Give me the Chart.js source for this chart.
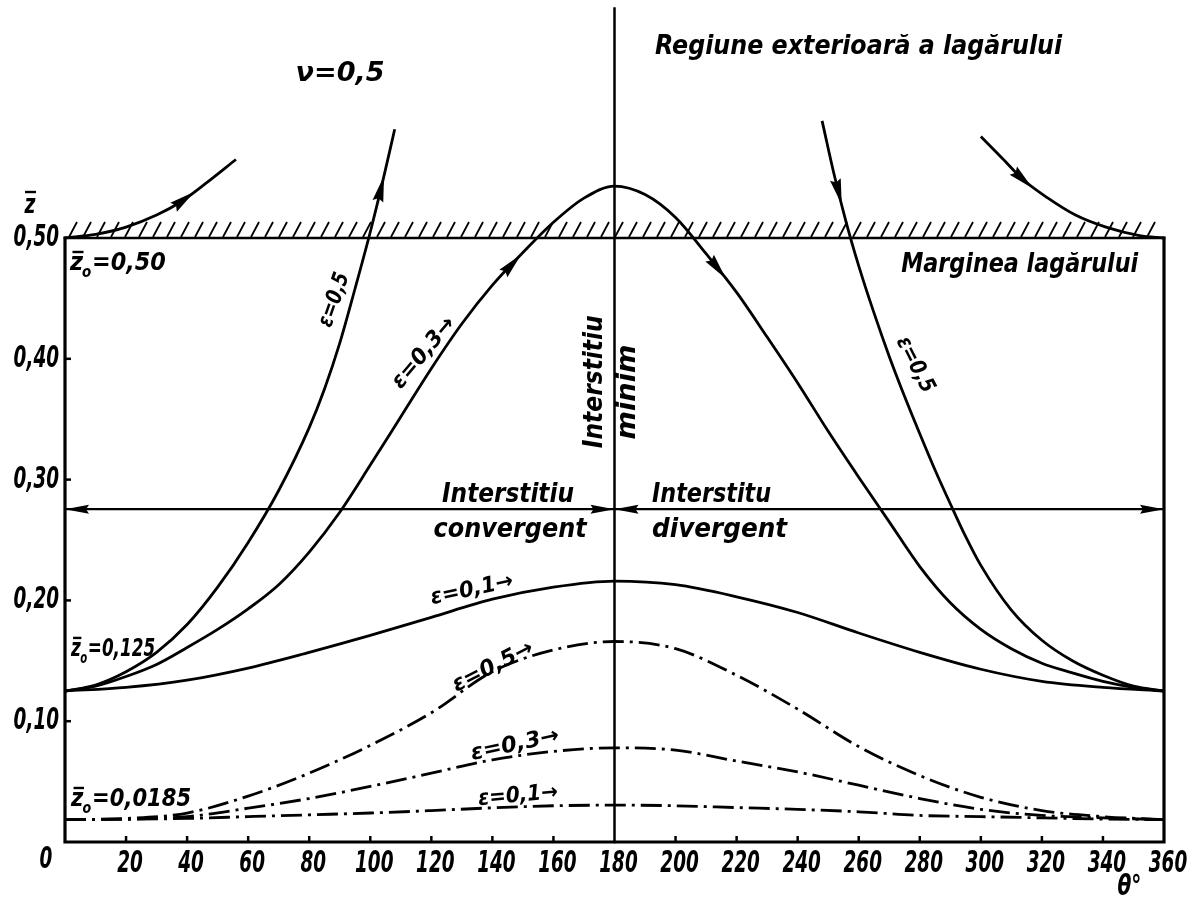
<!DOCTYPE html>
<html>
<head>
<meta charset="utf-8">
<script src="https://cdn.jsdelivr.net/npm/chart.js@4.4.1/dist/chart.umd.min.js"></script>
<style>
  html, body { margin: 0; padding: 0; background: #fff; }
  canvas { display: block; }
</style>
</head>
<body>
<canvas id="c" width="1192" height="901"></canvas>
<script>
// θ grid (degrees) for the low curves
const theta = [0, 20, 40, 60, 80, 100, 120, 140, 160, 180, 200, 220, 240, 260, 280, 300, 320, 340, 360];

// z̄0 = 0,125, ε = 0,1 (solid)
const zE01Solid = [0.125, 0.128, 0.134, 0.144, 0.157, 0.171, 0.186, 0.201, 0.211, 0.216, 0.213, 0.203, 0.190, 0.173, 0.157, 0.143, 0.133, 0.128, 0.125];

// z̄0 = 0,0185 (dash-dot), ε = 0,5 / 0,3 / 0,1
const zE05Dash = [0.0185, 0.0195, 0.024, 0.038, 0.057, 0.080, 0.107, 0.141, 0.159, 0.166, 0.160, 0.138, 0.110, 0.079, 0.055, 0.037, 0.026, 0.021, 0.0185];
const zE03Dash = [0.0185, 0.019, 0.021, 0.028, 0.036, 0.046, 0.057, 0.068, 0.075, 0.078, 0.076, 0.067, 0.058, 0.047, 0.036, 0.027, 0.022, 0.020, 0.0185];
const zE01Dash = [0.0185, 0.0188, 0.0195, 0.021, 0.0225, 0.024, 0.026, 0.0283, 0.030, 0.0305, 0.030, 0.0285, 0.027, 0.025, 0.022, 0.021, 0.020, 0.019, 0.0185];

// z̄0 = 0,125, ε = 0,3 (solid), crosses the bearing edge around θ = 180°
const thetaE03 = [0, 10, 20, 30, 40, 50, 60, 70, 80, 90, 100, 110, 120, 130, 140, 150, 160, 170, 180,
                  190, 200, 210, 220, 230, 240, 250, 260, 270, 280, 290, 300, 310, 320, 330, 340, 350, 360];
const zE03Solid = [0.125, 0.129, 0.137, 0.147, 0.161, 0.176, 0.193, 0.213, 0.240, 0.273, 0.312, 0.352, 0.392, 0.429, 0.461, 0.488, 0.513, 0.533, 0.543,
                   0.536, 0.517, 0.487, 0.455, 0.418, 0.380, 0.340, 0.302, 0.265, 0.228, 0.198, 0.176, 0.160, 0.148, 0.140, 0.133, 0.128, 0.125];

// z̄0 = 0,125, ε = 0,5 (solid): leaves the bearing, then comes back
const thetaE05Out = [0, 10, 20, 30, 40, 50, 60, 70, 80, 85, 90, 95, 100, 104, 108];
const zE05Out = [0.125, 0.130, 0.141, 0.157, 0.180, 0.211, 0.248, 0.291, 0.343, 0.375, 0.413, 0.458, 0.505, 0.546, 0.590];
const thetaE05In = [248, 252, 256, 260, 265, 270, 275, 280, 285, 290, 295, 300, 310, 320, 330, 340, 350, 360];
const zE05In = [0.597, 0.552, 0.512, 0.477, 0.438, 0.402, 0.369, 0.338, 0.308, 0.280, 0.253, 0.229, 0.192, 0.167, 0.150, 0.138, 0.129, 0.125];

// z̄0 = 0,50: streamlines starting/ending on the bearing edge
const thetaEdgeOut = [0, 10, 20, 30, 38, 46, 56];
const zEdgeOut = [0.5, 0.503, 0.509, 0.519, 0.530, 0.545, 0.565];
const thetaEdgeIn = [300, 307, 314, 322, 331, 341, 352, 360];
const zEdgeIn = [0.584, 0.566, 0.548, 0.533, 0.519, 0.509, 0.502, 0.5];

// level of the convergent / divergent gap arrow
const thetaGap = [0, 360];
const zGap = [0.2755, 0.2755];

// axis ticks
const xTicks = [20, 40, 60, 80, 100, 120, 140, 160, 180, 200, 220, 240, 260, 280, 300, 320, 340, 360];
const yTicks = [0.1, 0.2, 0.3, 0.4, 0.5];
const yTickLabels = ['0,10', '0,20', '0,30', '0,40', '0,50'];
const zEdge = 0.5;
const thetaMin = 180;

const pts = (xs, ys) => xs.map((x, i) => ({ x: x, y: ys[i] }));
const DASH_DOT = [21, 6, 3, 6];
const curve = (data, dash) => ({
  data: data, borderColor: '#000', borderWidth: 2.8, borderDash: dash || [],
  pointRadius: 0, fill: false, cubicInterpolationMode: 'monotone'
});

const datasets = [
  curve(pts(theta, zE01Solid)),                 // 0
  curve(pts(theta, zE05Dash), DASH_DOT),        // 1
  curve(pts(theta, zE03Dash), DASH_DOT),        // 2
  curve(pts(theta, zE01Dash), DASH_DOT),        // 3
  curve(pts(thetaE03, zE03Solid)),              // 4
  curve(pts(thetaE05Out, zE05Out)),             // 5
  curve(pts(thetaE05In, zE05In)),               // 6
  curve(pts(thetaEdgeOut, zEdgeOut)),           // 7
  curve(pts(thetaEdgeIn, zEdgeIn)),             // 8
  Object.assign(curve(pts(thetaGap, zGap)), { borderWidth: 2.2 }) // 9
];

// flow direction arrows: [x values, y values, θ of the arrowhead]
const flowArrows = [
  [thetaEdgeOut, zEdgeOut, 39],
  [thetaE05Out, zE05Out, 103.5],
  [thetaE03, zE03Solid, 146.5],
  [thetaE03, zE03Solid, 213.8],
  [thetaE05In, zE05In, 253.4],
  [thetaEdgeIn, zEdgeIn, 313.8]
];

const LETTER = '"DejaVu Sans Condensed", "DejaVu Sans", sans-serif';
const NUM_FONT = 'italic bold 31px ' + LETTER;

function lerp(xs, ys, t) {
  for (let i = 1; i < xs.length; i++) {
    if (t <= xs[i]) {
      const f = (t - xs[i - 1]) / (xs[i] - xs[i - 1]);
      return ys[i - 1] + f * (ys[i] - ys[i - 1]);
    }
  }
  return ys[ys.length - 1];
}

function arrowHead(ctx, x, y, ang, len, half) {
  ctx.save();
  ctx.translate(x, y);
  ctx.rotate(ang);
  ctx.beginPath();
  ctx.moveTo(len / 2, 0);
  ctx.lineTo(-len / 2, -half);
  ctx.lineTo(-len / 2 + 3, 0);
  ctx.lineTo(-len / 2, half);
  ctx.closePath();
  ctx.fill();
  ctx.restore();
}

function label(ctx, text, x, y, o) {
  ctx.save();
  ctx.font = o.font;
  ctx.fillStyle = '#000';
  ctx.textBaseline = 'middle';
  ctx.textAlign = 'left';
  ctx.translate(x, y);
  if (o.rot) ctx.rotate(o.rot * Math.PI / 180);
  const w = ctx.measureText(text).width;
  const sx = o.width ? o.width / w : (o.sx || 1);
  const a = o.align || 'center';
  const off = a === 'left' ? 0 : (a === 'right' ? -w * sx : -w * sx / 2);
  ctx.translate(off, 0);
  ctx.scale(sx, 1);
  ctx.fillText(text, 0, 0);
  ctx.restore();
}

// "z̄o = value" label, left aligned at (x, y)
function zLabel(ctx, value, x, y, width) {
  const big = 'italic bold 25px ' + LETTER;
  const small = 'italic bold 15px ' + LETTER;
  ctx.save();
  ctx.font = big;
  const wz = ctx.measureText('z').width;
  const wv = ctx.measureText('=' + value).width;
  ctx.font = small;
  const wo = ctx.measureText('o').width;
  const total = wz + wo + wv;
  const sx = width / total;
  ctx.translate(x, y);
  ctx.scale(sx, 1);
  ctx.fillStyle = '#000';
  ctx.strokeStyle = '#000';
  ctx.textBaseline = 'middle';
  ctx.textAlign = 'left';
  ctx.font = big;
  ctx.fillText('z', 0, 0);
  ctx.lineWidth = 2.4;
  ctx.beginPath();
  ctx.moveTo(wz * 0.2, -12);
  ctx.lineTo(wz * 1.05, -12);
  ctx.stroke();
  ctx.font = small;
  ctx.fillText('o', wz - 1, 9);
  ctx.font = big;
  ctx.fillText('=' + value, wz + wo, 0);
  ctx.restore();
}

const sketch = {
  id: 'bearingSketch',
  afterDatasetsDraw(chart) {
    const ctx = chart.ctx;
    const X = v => chart.scales.x.getPixelForValue(v);
    const Y = v => chart.scales.y.getPixelForValue(v);
    const x0 = X(0), x1 = X(360), y0 = Y(0), yE = Y(zEdge);

    ctx.save();
    ctx.strokeStyle = '#000';
    ctx.fillStyle = '#000';
    ctx.lineCap = 'square';

    // bearing frame
    ctx.lineWidth = 3.2;
    ctx.beginPath();
    ctx.moveTo(x0, yE); ctx.lineTo(x0, y0); ctx.lineTo(x1, y0); ctx.lineTo(x1, yE);
    ctx.stroke();
    ctx.lineWidth = 2.6;
    ctx.beginPath();
    ctx.moveTo(x0, yE); ctx.lineTo(x1, yE);
    ctx.stroke();

    // minimum gap line
    ctx.lineWidth = 2.5;
    ctx.beginPath();
    ctx.moveTo(X(thetaMin), y0); ctx.lineTo(X(thetaMin), chart.chartArea.top);
    ctx.stroke();

    // hatching above the bearing edge
    ctx.lineWidth = 1.8;
    ctx.lineCap = 'butt';
    for (let hx = x0 + 4; hx < x1 - 12; hx += 14) {
      ctx.beginPath();
      ctx.moveTo(hx, yE - 1);
      ctx.lineTo(hx + 8, yE - 16);
      ctx.stroke();
    }

    // ticks
    ctx.lineWidth = 2.5;
    xTicks.forEach(t => {
      if (t === 180 || t === 360) return;
      ctx.beginPath(); ctx.moveTo(X(t), y0); ctx.lineTo(X(t), y0 - 6); ctx.stroke();
    });
    yTicks.forEach(v => {
      if (v >= zEdge) return;
      ctx.beginPath(); ctx.moveTo(x0, Y(v)); ctx.lineTo(x0 + 6, Y(v)); ctx.stroke();
    });

    // tick labels
    xTicks.forEach(t => {
      label(ctx, String(t), X(t) + 4, y0 + 22, { font: NUM_FONT, sx: 0.66 });
    });
    yTicks.forEach((v, i) => {
      label(ctx, yTickLabels[i], x0 - 6, Y(v), { font: NUM_FONT, sx: 0.66, align: 'right' });
    });
    label(ctx, '0', x0 - 19, y0 + 18, { font: NUM_FONT, sx: 0.66 });
    label(ctx, 'θ°', X(350) - 4, y0 + 46, { font: 'italic bold 28px ' + LETTER, sx: 0.8 });
    // ordinate symbol z̄
    label(ctx, 'z', x0 - 35, yE - 32, { font: 'italic bold 26px ' + LETTER, sx: 0.8 });
    ctx.lineWidth = 2.4;
    ctx.beginPath(); ctx.moveTo(x0 - 40, yE - 46); ctx.lineTo(x0 - 29, yE - 46); ctx.stroke();

    // gap arrow heads
    const yg = Y(zGap[0]);
    arrowHead(ctx, x0 + 12, yg, Math.PI, 24, 4.5);
    arrowHead(ctx, X(thetaMin) - 12, yg, 0, 24, 4.5);
    arrowHead(ctx, X(thetaMin) + 12, yg, Math.PI, 24, 4.5);
    arrowHead(ctx, x1 - 12, yg, 0, 24, 4.5);

    // flow arrows along curves
    flowArrows.forEach(([xs, ys, t]) => {
      const ax = X(t), ay = Y(lerp(xs, ys, t));
      const bx = X(t + 1), by = Y(lerp(xs, ys, t + 1));
      const cx = X(t - 1), cy = Y(lerp(xs, ys, t - 1));
      arrowHead(ctx, ax, ay, Math.atan2(by - cy, bx - cx), 26, 5.5);
    });

    // annotations
    const A = 'italic bold 26px ' + LETTER;
    const E = 'italic bold 22px ' + LETTER;
    label(ctx, 'Regiune exterioară a lagărului', X(193.3), Y(0.658), { font: A, width: 407, align: 'left' });
    label(ctx, 'ν=0,5', X(90.1), Y(0.6358), { font: A, width: 89 });
    label(ctx, 'Marginea lagărului', X(273.9), Y(0.4776), { font: A, width: 237, align: 'left' });
    zLabel(ctx, '0,50', X(1.6), Y(0.4785), 96);
    zLabel(ctx, '0,125', X(2.0), Y(0.159), 84);
    zLabel(ctx, '0,0185', X(2.0), Y(0.0348), 120);
    label(ctx, 'Interstitiu', X(173.6), Y(0.381), { font: A, width: 133, rot: -90 });
    label(ctx, 'minim', X(184.4), Y(0.3725), { font: A, width: 95, rot: -90 });
    label(ctx, 'Interstitiu', X(145.1), Y(0.2873), { font: A, width: 132 });
    label(ctx, 'convergent', X(145.8), Y(0.2583), { font: A, width: 153 });
    label(ctx, 'Interstitu', X(192.3), Y(0.2873), { font: A, width: 119, align: 'left' });
    label(ctx, 'divergent', X(192.3), Y(0.2583), { font: A, width: 135, align: 'left' });
    label(ctx, 'ε=0,5', X(88.3), Y(0.4487), { font: E, width: 56, rot: -71 });
    label(ctx, 'ε=0,3→', X(117.6), Y(0.4048), { font: E, width: 86, rot: -50 });
    label(ctx, 'ε=0,5', X(278.4), Y(0.3949), { font: E, width: 60, rot: 63 });
    label(ctx, 'ε=0,1→', X(133.3), Y(0.2086), { font: E, width: 84, rot: -12 });
    label(ctx, 'ε=0,5→', X(140.2), Y(0.1449), { font: E, width: 88, rot: -27 });
    label(ctx, 'ε=0,3→', X(147.4), Y(0.0803), { font: E, width: 90, rot: -12 });
    label(ctx, 'ε=0,1→', X(148.4), Y(0.0381), { font: E, width: 80, rot: -5 });

    ctx.restore();
  }
};

new Chart(document.getElementById('c'), {
  type: 'line',
  data: { datasets: datasets },
  options: {
    responsive: false,
    animation: false,
    devicePixelRatio: 1,
    events: [],
    layout: { padding: { left: 65, right: 28, top: 8.5, bottom: 59 } },
    plugins: { legend: { display: false }, tooltip: { enabled: false } },
    scales: {
      x: { type: 'linear', min: 0, max: 360, display: false },
      y: { type: 'linear', min: 0, max: 0.69, display: false }
    }
  },
  plugins: [sketch]
});
</script>
</body>
</html>
